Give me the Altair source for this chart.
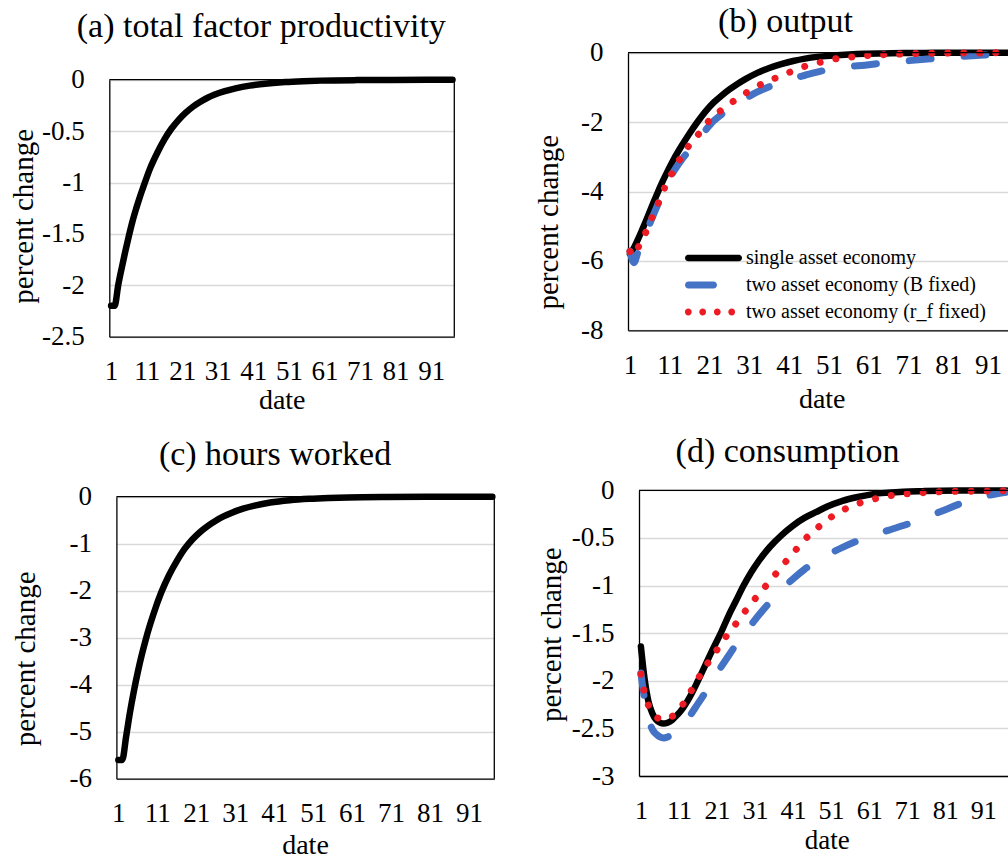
import altair as alt
import pandas as pd

FONT = "Liberation Serif"
W, H = 1008, 859

# ---------------- data ----------------
panel_titles = ["(a) total factor productivity", "(b) output", "(c) hours worked", "(d) consumption"]
series_names = ["single asset economy", "two asset economy (B fixed)", "two asset economy (r_f fixed)"]
series_colors = ["#000000", "#4472C4", "#ED1C24"]
x_tick_labels = [1, 11, 21, 31, 41, 51, 61, 71, 81, 91]

# (a) and (c)
dates_ac = [1, 2, 3, 4, 5, 6, 7, 8, 9, 10, 12, 14, 16, 18, 20, 22, 24, 26, 28, 30,
            33, 36, 40, 45, 50, 55, 60, 70, 80, 90, 97]
tfp = [-2.2, -2.2, -2.0, -1.83, -1.67, -1.52, -1.38, -1.26, -1.15, -1.05,
       -0.86, -0.71, -0.58, -0.475, -0.39, -0.32, -0.263, -0.217, -0.178, -0.147,
       -0.112, -0.085, -0.058, -0.036, -0.022, -0.014, -0.009, -0.004, -0.002, -0.001, 0.0]
hours = [-5.6, -5.6, -5.1, -4.58, -4.13, -3.73, -3.37, -3.05, -2.76, -2.50,
         -2.04, -1.67, -1.37, -1.11, -0.91, -0.75, -0.62, -0.51, -0.42, -0.345,
         -0.255, -0.19, -0.125, -0.075, -0.045, -0.027, -0.016, -0.006, -0.002, -0.001, 0.0]

# (b) output
dates_b = [1, 2, 3, 4, 5, 6, 7, 8, 9, 10, 12, 14, 16, 18, 20, 22, 24, 26, 28, 30,
           33, 36, 39, 42, 45, 48, 52, 56, 60, 65, 70, 75, 80, 85, 90, 97]
output_single = [-5.80, -5.62, -5.38, -5.12, -4.85, -4.57, -4.29, -4.02, -3.76, -3.52,
                 -3.07, -2.68, -2.32, -1.99, -1.69, -1.44, -1.24, -1.06, -0.90, -0.76,
                 -0.58, -0.44, -0.33, -0.24, -0.17, -0.12, -0.08, -0.05, -0.03,
                 -0.02, -0.01, -0.006, -0.004, -0.002, -0.001, 0.0]
output_bfixed = [-5.72, -6.05, -5.75, -5.48, -5.20, -4.92, -4.64, -4.37, -4.11, -3.86,
                 -3.42, -3.08, -2.80, -2.52, -2.23, -1.97, -1.78, -1.60, -1.45, -1.32,
                 -1.13, -0.98, -0.85, -0.74, -0.65, -0.56, -0.46, -0.40, -0.36,
                 -0.29, -0.24, -0.19, -0.14, -0.10, -0.066, -0.035]
output_rffixed = [-5.73, -5.85, -5.62, -5.42, -5.17, -4.88, -4.63, -4.36, -4.08, -3.82,
                  -3.38, -2.98, -2.65, -2.38, -2.07, -1.84, -1.65, -1.48, -1.32, -1.17,
                  -0.97, -0.80, -0.67, -0.52, -0.39, -0.30, -0.19, -0.13, -0.086,
                  -0.055, -0.035, -0.02, -0.013, -0.008, -0.005, -0.003]

# (d) consumption
dates_d = [1, 2, 3, 4, 5, 6, 7, 8, 9, 10, 11, 12, 14, 16, 18, 20, 22, 24, 26, 28, 30, 32,
           35, 38, 41, 44, 47, 50, 54, 58, 62, 66, 70, 75, 80, 85, 90, 97]
cons_single = [-1.64, -1.99, -2.22, -2.34, -2.41, -2.44, -2.45, -2.44, -2.42, -2.38, -2.34, -2.29,
               -2.16, -2.00, -1.83, -1.66, -1.50, -1.32, -1.16, -1.00, -0.86, -0.74,
               -0.59, -0.47, -0.37, -0.29, -0.23, -0.17,
               -0.11, -0.07, -0.04, -0.025, -0.015, -0.009, -0.005, -0.003, -0.002, -0.001]
cons_bfixed = [-1.92, -2.20, -2.40, -2.51, -2.56, -2.59, -2.60, -2.59, -2.57, -2.54, -2.50, -2.46,
               -2.36, -2.24, -2.12, -1.99, -1.86, -1.74, -1.62, -1.51, -1.41, -1.31,
               -1.17, -1.04, -0.93, -0.83, -0.75, -0.68,
               -0.60, -0.53, -0.47, -0.42, -0.37, -0.30, -0.22, -0.14, -0.075, -0.02]
cons_rffixed = [-1.93, -2.14, -2.26, -2.33, -2.38, -2.40, -2.41, -2.40, -2.38, -2.35, -2.31, -2.25,
                -2.12, -1.98, -1.85, -1.73, -1.62, -1.50, -1.40, -1.29, -1.19, -1.09,
                -0.95, -0.80, -0.66, -0.52, -0.41, -0.31,
                -0.21, -0.14, -0.095, -0.06, -0.04, -0.025, -0.015, -0.01, -0.008, -0.005]

# ---------------- styling ----------------
LINE_STYLES = [
    dict(color=series_colors[0], strokeWidth=6.5),
    dict(color=series_colors[1], strokeWidth=7, strokeDash=[22, 33]),
    dict(color=series_colors[2], strokeWidth=7, strokeDash=[0.01, 16]),
]

legend_paths = [
    "M-0.675,-0.325L4.375,-0.325A0.325,0.325,0,0,1,4.375,0.325L-0.675,0.325A0.325,0.325,0,0,1,-0.675,-0.325Z",
    "M-0.65,-0.35L1.85,-0.35A0.35,0.35,0,0,1,1.85,0.35L-0.65,0.35A0.35,0.35,0,0,1,-0.65,-0.35Z",
    "M-1.01,0A0.34,0.34,0,1,0,-0.33,0A0.34,0.34,0,1,0,-1.01,0Z"
    "M0.43,0A0.34,0.34,0,1,0,1.11,0A0.34,0.34,0,1,0,0.43,0Z"
    "M1.89,0A0.34,0.34,0,1,0,2.57,0A0.34,0.34,0,1,0,1.89,0Z"
    "M3.33,0A0.34,0.34,0,1,0,4.01,0A0.34,0.34,0,1,0,3.33,0Z",
]

LABEL_EXPR = "datum.value == 0 ? '0' : '-' + format(abs(datum.value), '~g')"

units = []


def add_panel(box, xdom, ydom, yticks, ytitle_xy, xtitle_xy, series, right_border, legend=False,
              xlabel_size=27, xlabel_pad=22, xtitle_size=28):
    L, R, T, B = box
    xs = alt.Scale(domain=xdom, range=[L, R], nice=False, zero=False)
    ys = alt.Scale(domain=ydom, range=[B, T], nice=False, zero=False)
    xaxis = alt.Axis(orient="bottom", offset=B - H, values=x_tick_labels, format="d",
                     labelFont=FONT, labelFontSize=xlabel_size, labelColor="black", labelPadding=xlabel_pad,
                     labelFlush=False, labelOverlap=False, ticks=False, grid=False,
                     domainColor="black", domainWidth=1.3,
                     title="date", titleFont=FONT, titleFontSize=xtitle_size, titleFontWeight="normal",
                     titleColor="black", titleX=xtitle_xy[0], titleY=xtitle_xy[1],
                     titleBaseline="alphabetic", titleAlign="center")
    yaxis = alt.Axis(orient="left", offset=-L, values=yticks, labelExpr=LABEL_EXPR,
                     labelFont=FONT, labelFontSize=27, labelColor="black", labelPadding=25,
                     labelFlush=False, labelOverlap=False, ticks=False,
                     grid=True, gridColor="#d9d9d9", gridWidth=1.3,
                     domainColor="black", domainWidth=1.3,
                     title="percent change", titleFont=FONT, titleFontSize=29, titleFontWeight="normal",
                     titleColor="black", titleX=ytitle_xy[0] - L, titleY=ytitle_xy[1],
                     titleAngle=270, titleBaseline="middle", titleAlign="center")
    for i, (dates, vals, style) in enumerate(series):
        df = pd.DataFrame({"date": dates, "value": vals})
        units.append(
            alt.Chart(df).mark_line(strokeCap="round", strokeJoin="round", interpolate="monotone",
                                    **style).encode(
                x=alt.X("date:Q", scale=xs, axis=xaxis if i == 0 else None),
                y=alt.Y("value:Q", scale=ys, axis=yaxis if i == 0 else None),
            )
        )
    top_df = pd.DataFrame({"x0": [xdom[0]], "x1": [xdom[1]], "y": [ydom[1]]})
    units.append(alt.Chart(top_df).mark_rule(color="black", strokeWidth=1.3).encode(
        x=alt.X("x0:Q", scale=xs, axis=None), x2="x1:Q",
        y=alt.Y("y:Q", scale=ys, axis=None)))
    if right_border:
        r_df = pd.DataFrame({"x": [xdom[1]], "y0": [ydom[0]], "y1": [ydom[1]]})
        units.append(alt.Chart(r_df).mark_rule(color="black", strokeWidth=1.3).encode(
            x=alt.X("x:Q", scale=xs, axis=None),
            y=alt.Y("y0:Q", scale=ys, axis=None), y2="y1:Q"))
    if legend:
        leg = alt.Legend(title=None, orient="none", legendX=685, legendY=248,
                         labelFont=FONT, labelFontSize=20, labelColor="black",
                         labelOffset=41, labelLimit=500, symbolSize=400,
                         symbolStrokeWidth=0, symbolOpacity=1, rowPadding=7, padding=0)
        leg_df = pd.DataFrame({"series": series_names, "date": [0, 0, 0], "value": [0, 0, 0]})
        units.append(
            alt.Chart(leg_df).transform_filter("false").mark_point(filled=True, size=400, opacity=1).encode(
                x=alt.X("date:Q", scale=xs, axis=None),
                y=alt.Y("value:Q", scale=ys, axis=None),
                color=alt.Color("series:N", scale=alt.Scale(domain=series_names, range=series_colors), legend=leg),
                shape=alt.Shape("series:N", scale=alt.Scale(domain=series_names, range=legend_paths), legend=leg),
            )
        )


add_panel((109.3, 454.3, 79.7, 336.7), [0.5, 97.5], [-2.5, 0],
          [-2.5, -2, -1.5, -1, -0.5, 0], (23.3, 215.8), (281.7, 71.5),
          [(dates_ac, tfp, LINE_STYLES[0])], right_border=True)
add_panel((628, 1008, 52.7, 330.3), [0.5, 96.0], [-8, 0],
          [-8, -6, -4, -2, 0], (548, 221.7), (821.7, 77),
          [(dates_b, output_single, LINE_STYLES[0]),
           (dates_b, output_bfixed, LINE_STYLES[1]),
           (dates_b, output_rffixed, LINE_STYLES[2])], right_border=False, legend=True)
add_panel((116.4, 494.3, 496.7, 778.7), [0.5, 97.5], [-6, 0],
          [-6, -5, -4, -3, -2, -1, 0], (25, 658.3), (305, 74.3),
          [(dates_ac, hours, LINE_STYLES[0])], right_border=True)
add_panel((639, 1008, 490.3, 776), [0.5, 97.5], [-3, 0],
          [-3, -2.5, -2, -1.5, -1, -0.5, 0], (551.7, 634.2), (826.7, 72),
          [(dates_d, cons_single, LINE_STYLES[0]),
           (dates_d, cons_bfixed, LINE_STYLES[1]),
           (dates_d, cons_rffixed, LINE_STYLES[2])], right_border=False,
          xlabel_size=26, xlabel_pad=21, xtitle_size=27)

title_pos = [(261.3, 36.7), (785.5, 31.7), (275, 465), (787.5, 461.7)]
for t, (tx, ty) in zip(panel_titles, title_pos):
    units.append(
        alt.Chart(pd.DataFrame({"t": [t]})).mark_text(
            x=tx, y=ty, font=FONT, fontSize=34, color="black", align="center", baseline="alphabetic"
        ).encode(text="t:N")
    )

chart = alt.layer(*units).resolve_scale(
    x="independent", y="independent", color="independent", shape="independent"
).resolve_axis(x="independent", y="independent").properties(
    width=W, height=H, padding=0, autosize=alt.AutoSizeParams(type="none")
).configure(
    font=FONT
).configure_axis(
    labelFont=FONT, titleFont=FONT
).configure_legend(
    labelFont=FONT, titleFont=FONT
).configure_text(
    font=FONT
).configure_view(strokeOpacity=0)

chart.save("out.html", embed_options={"renderer": "svg", "actions": False})
